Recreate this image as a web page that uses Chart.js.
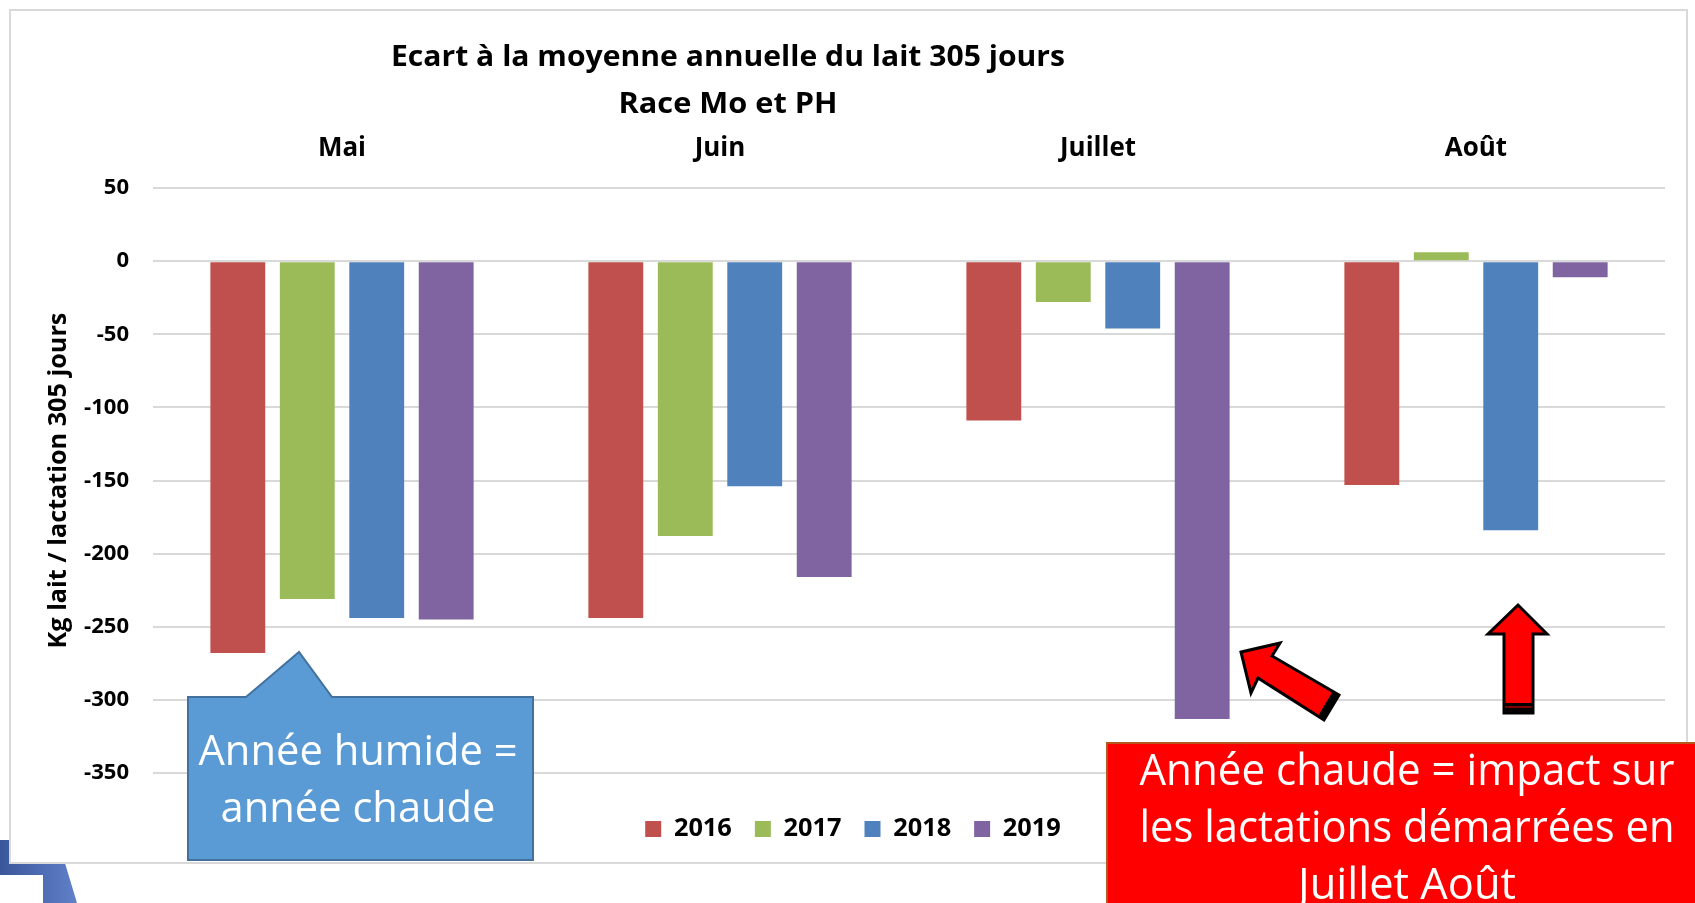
<!DOCTYPE html>
<html>
<head>
<meta charset="utf-8">
<script src="https://cdn.jsdelivr.net/npm/chart.js@4.4.1/dist/chart.umd.min.js"></script>
<style>
  html, body { margin:0; padding:0; background:#ffffff; width:1695px; height:903px; overflow:hidden; }
  #under, #over, #c { position:absolute; left:0; top:0; }
  #over text { font-family:'Open Sans', sans-serif; }
</style>
</head>
<body>
<svg id="under" width="1695" height="903">
  <defs>
    <linearGradient id="deco" x1="0" x2="1" y1="0" y2="0">
      <stop offset="0" stop-color="#3a569b"/>
      <stop offset="1" stop-color="#6080c8"/>
    </linearGradient>
  </defs>
  <polygon points="0,840 58,840 77,903 43,903 43,875 0,875" fill="url(#deco)"/>
  <rect x="10" y="10" width="1677" height="853" fill="#ffffff" stroke="#d9d9d9" stroke-width="2"/>
</svg>

<canvas id="c" width="1695" height="903"></canvas>

<svg id="over" width="1695" height="903">
  <!-- Titre -->
  <text x="728" y="66" text-anchor="middle" font-weight="bold" font-size="29" fill="#000" textLength="674" lengthAdjust="spacingAndGlyphs">Ecart à la moyenne annuelle du lait 305 jours</text>
  <text x="728" y="113" text-anchor="middle" font-weight="bold" font-size="29" fill="#000" textLength="219" lengthAdjust="spacingAndGlyphs">Race Mo et PH</text>

  <!-- Bulle bleue -->
  <path d="M188,697 L246,697 L299,652 L332,697 L533,697 L533,860 L188,860 Z" fill="#5b9bd5" stroke="#41719c" stroke-width="2"/>
  <text x="358" y="765" text-anchor="middle" font-size="42" fill="#ffffff" textLength="319" lengthAdjust="spacingAndGlyphs">Année humide =</text>
  <text x="358" y="822" text-anchor="middle" font-size="42" fill="#ffffff" textLength="275" lengthAdjust="spacingAndGlyphs">année chaude</text>

  <!-- Flèche diagonale -->
  <polygon points="1241,652 1280,643 1272,656 1339,695 1324,720 1258,678 1251,693" fill="#ff0000" stroke="#000" stroke-width="3" stroke-linejoin="miter"/>
  <polygon points="1339,695 1324,720 1318,716 1333,691" fill="#000"/>
  <!-- Flèche verticale -->
  <polygon points="1518,605 1547,634 1533,634 1533,713 1504,713 1504,634 1488,634" fill="#ff0000" stroke="#000" stroke-width="3" stroke-linejoin="miter"/>
  <rect x="1504" y="703" width="29" height="10" fill="#000"/>
  <line x1="1505" y1="707" x2="1532" y2="707" stroke="#ff0000" stroke-width="1"/>

  <!-- Encadré rouge -->
  <rect x="1107" y="743" width="600" height="180" fill="#ff0000" stroke="#b5561e" stroke-width="2"/>
  <text x="1407" y="785" text-anchor="middle" font-size="43" fill="#ffffff" textLength="535" lengthAdjust="spacingAndGlyphs">Année chaude = impact sur</text>
  <text x="1407" y="842" text-anchor="middle" font-size="43" fill="#ffffff" textLength="535" lengthAdjust="spacingAndGlyphs">les lactations démarrées en</text>
  <text x="1407" y="899" text-anchor="middle" font-size="43" fill="#ffffff" textLength="218" lengthAdjust="spacingAndGlyphs">Juillet Août</text>
</svg>

<script>
// ---- Données ----
const categories = ['Mai', 'Juin', 'Juillet', 'Août'];
const years = ['2016', '2017', '2018', '2019'];
const values2016 = [-268, -244, -109, -153];
const values2017 = [-231, -188, -28, 6];
const values2018 = [-244, -154, -46, -184];
const values2019 = [-245, -216, -313, -11];
const yMin = -350;
const yMax = 50;
const yStep = 50;
const yTitle = 'Kg lait / lactation 305 jours';

const seriesValues = [values2016, values2017, values2018, values2019];
const seriesColors = ['#c0504d', '#9bbb59', '#4f81bd', '#8064a2'];

function fitSize(text, weight, family, target) {
  const cx = document.createElement('canvas').getContext('2d');
  cx.font = weight + ' 100px "' + family + '"';
  return 100 * target / cx.measureText(text).width;
}

const FAM = 'Open Sans';
const catSize = fitSize('Juillet', 'bold', FAM, 76);
const tickSize = fitSize('-350', 'bold', FAM, 45);
const legSize = fitSize('2016', 'bold', FAM, 58);
const yTitleSize = fitSize(yTitle, 'bold', FAM, 336);

const PAD_LEFT = 41, AREA_LEFT = 153, AREA_RIGHT = 1665, AREA_TOP = 188, AREA_BOTTOM = 773;

const chart = new Chart(document.getElementById('c').getContext('2d'), {
  type: 'bar',
  data: {
    labels: categories,
    datasets: years.map((y, i) => ({
      label: y,
      data: seriesValues[i],
      backgroundColor: seriesColors[i],
      borderWidth: 0,
      categoryPercentage: 0.735,
      barPercentage: 0.79
    }))
  },
  options: {
    responsive: false,
    animation: false,
    devicePixelRatio: 1,
    layout: { padding: { left: PAD_LEFT, right: 1695 - AREA_RIGHT, top: 0, bottom: 66 } },
    plugins: {
      title: { display: false },
      tooltip: { enabled: false },
      legend: {
        position: 'bottom',
        labels: {
          boxWidth: 16, boxHeight: 16, padding: 23, color: '#000',
          font: { family: FAM, weight: 'bold', size: legSize }
        },
        title: { display: true, text: '', font: { size: 1 }, padding: { top: 19, bottom: 0 } }
      }
    },
    scales: {
      x: {
        position: 'top',
        grid: { display: false },
        border: { display: false },
        ticks: { color: '#000', padding: 16, maxRotation: 0, font: { family: FAM, weight: 'bold', size: catSize } },
        afterFit(s) { s.height = AREA_TOP; }
      },
      y: {
        min: yMin, max: yMax,
        ticks: { stepSize: yStep, color: '#000', padding: 24, font: { family: FAM, weight: 'bold', size: tickSize } },
        grid: { color: '#d9d9d9', lineWidth: 2, drawTicks: false },
        border: { display: false },
        title: {
          display: true, text: yTitle, color: '#000',
          font: { family: FAM, weight: 'bold', size: yTitleSize },
          padding: { top: 59 - PAD_LEFT - yTitleSize * 0.6, bottom: 0 }
        },
        afterFit(s) { s.width = AREA_LEFT - PAD_LEFT; }
      }
    }
  }
});

// Ajuster la marge basse pour que la zone de tracé finisse à AREA_BOTTOM
chart.options.layout.padding.bottom = 903 - AREA_BOTTOM - chart.legend.height;
chart.update();
</script>
</body>
</html>
